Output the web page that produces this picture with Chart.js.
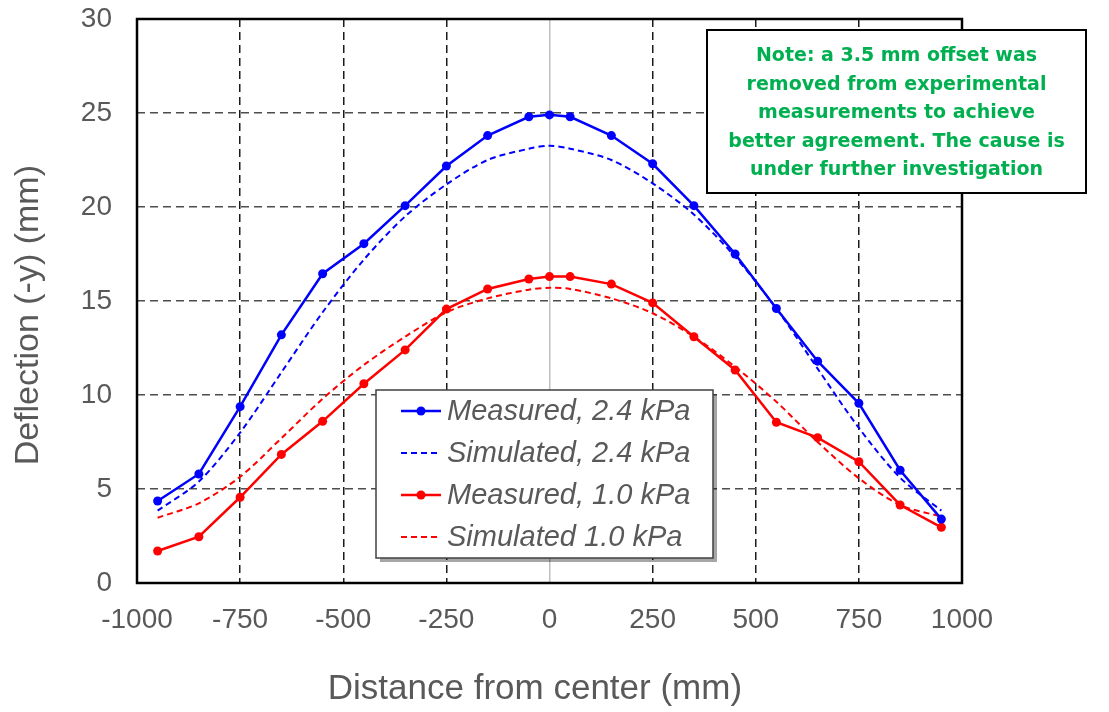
<!DOCTYPE html>
<html>
<head>
<meta charset="utf-8">
<script src="https://cdn.jsdelivr.net/npm/chart.js@4/dist/chart.umd.min.js"></script>
<style>
	html, body { margin: 0; padding: 0; background: #fff; }
	#wrap { width: 1109px; height: 712px; }
</style>
</head>
<body>
<div id="wrap"><canvas id="chart" width="1109" height="712"></canvas></div>
<script>
// positions along the span (mm)
var distances = [-950, -850, -750, -650, -550, -450, -350, -250, -150, -50, 0, 50, 150, 250, 350, 450, 550, 650, 750, 850, 950];

// deflections (mm)
var measured24  = [4.36, 5.8, 9.38, 13.2, 16.45, 18.05, 20.07, 22.18, 23.8, 24.8, 24.9, 24.8, 23.8, 22.3, 20.07, 17.5, 14.6, 11.8, 9.56, 6.0, 3.4];
var simulated24 = [3.85, 5.4, 8.0, 11.2, 14.4, 17.2, 19.5, 21.2, 22.5, 23.1, 23.26, 23.1, 22.5, 21.26, 19.6, 17.35, 14.6, 11.4, 8.25, 5.6, 3.85];
var measured10  = [1.7, 2.46, 4.56, 6.84, 8.6, 10.6, 12.4, 14.57, 15.64, 16.17, 16.3, 16.3, 15.9, 14.9, 13.1, 11.33, 8.55, 7.73, 6.45, 4.15, 2.96];
var simulated10 = [3.47, 4.24, 5.65, 7.7, 9.8, 11.6, 13.1, 14.4, 15.14, 15.6, 15.7, 15.64, 15.14, 14.35, 13.1, 11.5, 9.64, 7.5, 5.57, 4.15, 3.53];

var seriesLabels = ['Measured, 2.4 kPa', 'Simulated, 2.4 kPa', 'Measured, 1.0 kPa', 'Simulated 1.0 kPa'];
var noteLines = [
	'Note: a 3.5 mm offset was',
	'removed from experimental',
	'measurements to achieve',
	'better agreement. The cause is',
	'under further investigation'
];

var xTicks = [-1000, -750, -500, -250, 0, 250, 500, 750, 1000];
var yTicks = [0, 5, 10, 15, 20, 25, 30];

var FONT = "'Liberation Sans', Arial, sans-serif";
var GRAY = '#595959';

function pairs( ys )
{
	var out = [];
	for ( var i = 0; i < distances.length; i++ ) out.push( { x: distances[ i ], y: ys[ i ] } );
	return out;
} // pairs

function measuredSet( label, ys, color ){
	return {
		label: label, data: pairs( ys ),
		borderColor: color, backgroundColor: color,
		borderWidth: 2.5, pointRadius: 4.5, pointHoverRadius: 4.5,
		pointBorderWidth: 0, tension: 0
	};
}
function simulatedSet( label, ys, color ){
	return {
		label: label, data: pairs( ys ),
		borderColor: color, backgroundColor: color,
		borderWidth: 2, borderDash: [ 6, 4 ], pointRadius: 0,
		tension: 0.3
	};
}

// frame round the plot area
var framePlugin = {
	id: 'frame',
	beforeDatasetsDraw: function( chart ){
		var a = chart.chartArea, c = chart.ctx;
		c.save();
		c.strokeStyle = '#000';
		c.lineWidth = 2.5;
		c.strokeRect( a.left, a.top, a.right - a.left, a.bottom - a.top );
		c.restore();
	}
};

// legend box placed inside the plot, and the note box
var boxesPlugin = {
	id: 'boxes',
	afterDraw: function( chart ){
		var c = chart.ctx;

		// legend
		var lx = 376, ly = 390, lw = 337, lh = 168;
		c.save();
		c.fillStyle = 'rgba(0,0,0,0.35)';
		c.fillRect( lx + 4, ly + 4, lw, lh );
		c.fillStyle = '#fff';
		c.fillRect( lx, ly, lw, lh );
		c.strokeStyle = '#404040';
		c.lineWidth = 1.5;
		c.strokeRect( lx, ly, lw, lh );

		c.font = 'italic 29px ' + FONT;
		c.textBaseline = 'middle';
		c.textAlign = 'left';
		chart.data.datasets.forEach( function( ds, i ){
			var ry = 411 + i * 42;
			c.strokeStyle = ds.borderColor;
			c.lineWidth = ds.borderWidth;
			c.setLineDash( ds.borderDash || [] );
			c.beginPath();
			c.moveTo( 401, ry );
			c.lineTo( 441, ry );
			c.stroke();
			c.setLineDash( [] );
			if ( ds.pointRadius ) {
				c.fillStyle = ds.borderColor;
				c.beginPath();
				c.arc( 421, ry, ds.pointRadius, 0, Math.PI * 2 );
				c.fill();
			}
			c.fillStyle = GRAY;
			c.fillText( ds.label, 447, ry + 1 );
		} );

		// note
		var nx = 707, ny = 30, nw = 379, nh = 163;
		c.fillStyle = '#fff';
		c.fillRect( nx, ny, nw, nh );
		c.strokeStyle = '#000';
		c.lineWidth = 2;
		c.strokeRect( nx, ny, nw, nh );
		c.fillStyle = '#00B050';
		c.font = "bold 19px 'DejaVu Sans', Verdana, sans-serif";
		c.textAlign = 'center';
		noteLines.forEach( function( t, i ){
			c.fillText( t, nx + nw / 2, 56 + i * 28.6 );
		} );
		c.restore();
	}
};

new Chart( document.getElementById( 'chart' ).getContext( '2d' ), {
	type: 'line',
	data: {
		datasets: [
			measuredSet( seriesLabels[ 0 ], measured24, '#0000FF' ),
			simulatedSet( seriesLabels[ 1 ], simulated24, '#0000FF' ),
			measuredSet( seriesLabels[ 2 ], measured10, '#FF0000' ),
			simulatedSet( seriesLabels[ 3 ], simulated10, '#FF0000' )
		]
	},
	options: {
		responsive: false,
		animation: false,
		events: [],
		layout: { padding: { top: 19, right: 147, left: 0, bottom: 0 } },
		plugins: { legend: { display: false }, tooltip: { enabled: false } },
		scales: {
			x: {
				type: 'linear', min: -1000, max: 1000,
				afterBuildTicks: function( s ){ s.ticks = xTicks.map( function( v ){ return { value: v }; } ); },
				afterFit: function( s ){ s.height = 129; },
				ticks: {
					color: GRAY, font: { family: FONT, size: 28 }, padding: 20, maxRotation: 0, autoSkip: false,
					callback: function( v ){ return String( v ); }
				},
				grid: {
					drawTicks: false, lineWidth: 1.5,
					color: function( ctx ){ return ctx.tick && ctx.tick.value === 0 ? '#c0c0c0' : '#1a1a1a'; }
				},
				border: {
					display: false,
					dash: function( ctx ){ return ctx.tick && ctx.tick.value === 0 ? [] : [ 8, 5 ]; }
				},
				// trailing spaces nudge the title a little left, as in the original
				title: { display: true, text: 'Distance from center (mm)   ', color: GRAY, font: { family: FONT, size: 35 }, padding: { top: 0, bottom: 2 } }
			},
			y: {
				min: 0, max: 30,
				afterBuildTicks: function( s ){ s.ticks = yTicks.map( function( v ){ return { value: v }; } ); },
				afterFit: function( s ){
					s.width = 137;
					// label padding should not push the plot down
					s.paddingTop = 17;
					s.paddingBottom = 17;
				},
				ticks: { color: GRAY, font: { family: FONT, size: 28 }, padding: 25 },
				grid: { drawTicks: false, lineWidth: 1.5, color: '#4d4d4d' },
				border: { display: false, dash: [ 8, 5 ] },
				title: { display: true, text: 'Deflection (-y) (mm)   ', color: GRAY, font: { family: FONT, size: 34 }, padding: { top: 8, bottom: 0 } }
			}
		}
	},
	plugins: [ framePlugin, boxesPlugin ]
} );
</script>
</body>
</html>
